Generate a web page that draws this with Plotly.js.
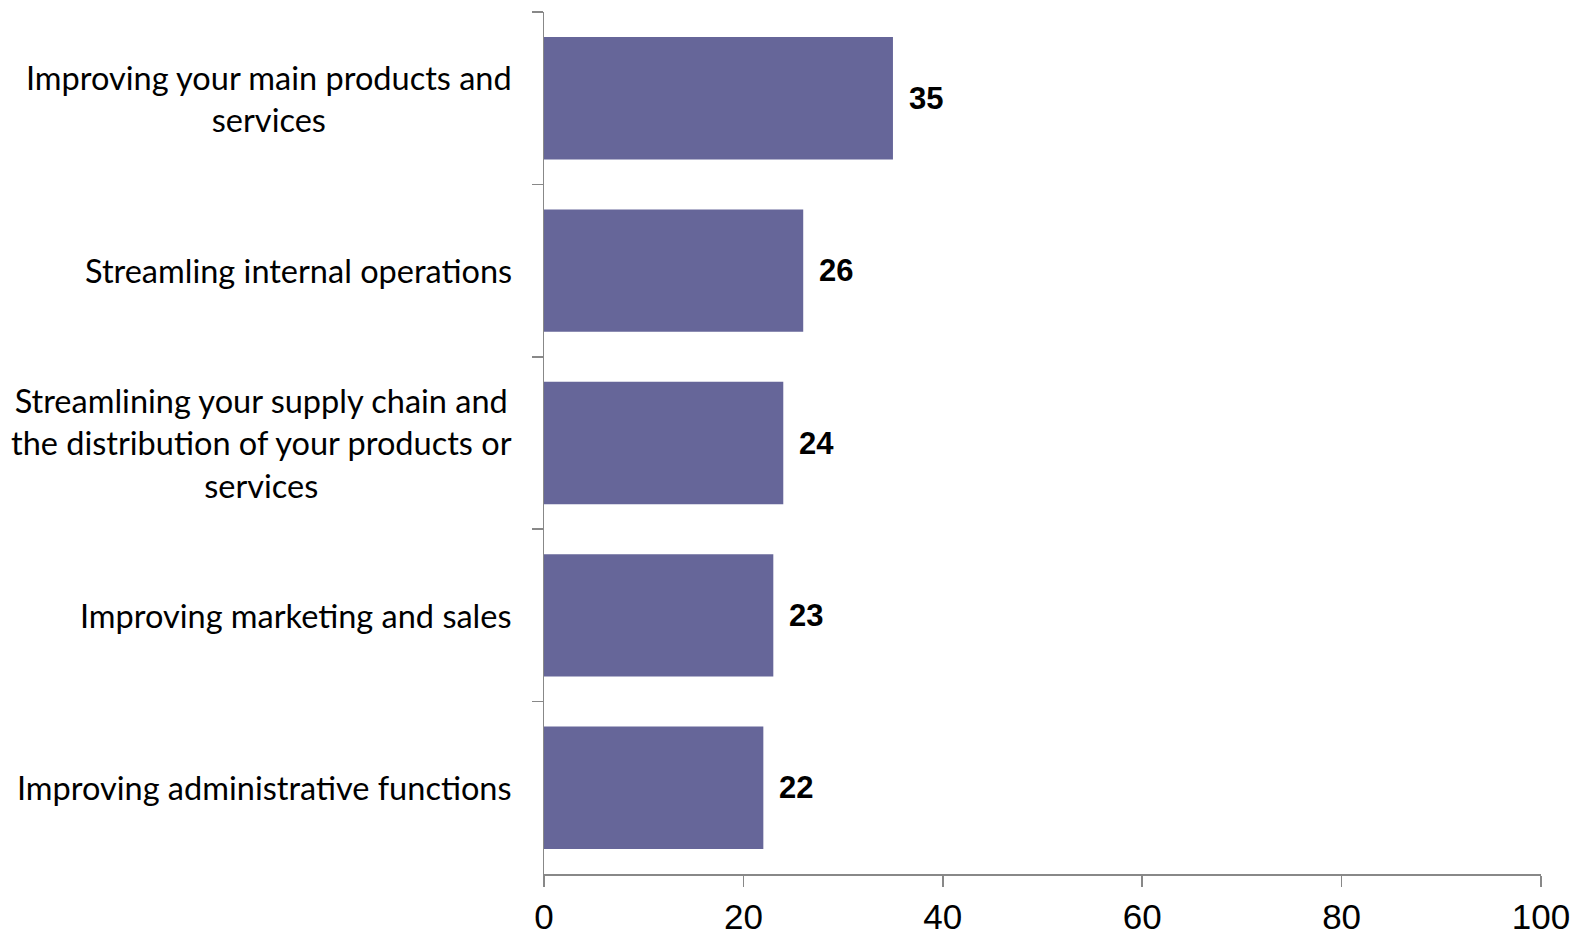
<!DOCTYPE html>
<html>
<head>
<meta charset="utf-8">
<script src="https://cdn.plot.ly/plotly-3.0.1.min.js"></script>
<style>
  html, body { margin: 0; padding: 0; background: #fff; }
  #chart { width: 1576px; height: 936px; }
</style>
</head>
<body>
<div id="chart"></div>
<script>
const categories = [
  "Improving your main products and<br>services",
  "Streamling internal operations",
  "Streamlining your supply chain and<br>the distribution of your products or<br>services",
  "Improving marketing and sales",
  "Improving administrative functions"
];
const values = [35, 26, 24, 23, 22];
const xTickValues = [0, 20, 40, 60, 80, 100];
const xTickLabels = ["0", "20", "40", "60", "80", "100"];

const trace = {
  type: 'bar',
  orientation: 'h',
  x: values,
  y: categories,
  marker: { color: '#666699', line: { width: 0 } },
  hoverinfo: 'x+y'
};

const annotations = [];
categories.forEach((c, i) => {
  annotations.push({
    xref: 'paper', yref: 'y', x: 0, y: c,
    xanchor: 'right', yanchor: 'middle', xshift: -30,
    text: c, align: 'center', showarrow: false,
    font: { family: 'Lato, "Open Sans", sans-serif', size: 32.5, color: '#000' }
  });
  annotations.push({
    xref: 'x', yref: 'y', x: values[i], y: c,
    xanchor: 'left', yanchor: 'middle', xshift: 14,
    text: '<b>' + values[i] + '</b>', showarrow: false,
    font: { family: '"Liberation Sans", Arial, sans-serif', size: 31, color: '#000' }
  });
});

const layout = {
  width: 1576, height: 936,
  margin: { l: 544, r: 35, t: 12, b: 62 },
  paper_bgcolor: '#fff', plot_bgcolor: '#fff',
  bargap: 0.29,
  showlegend: false,
  xaxis: {
    range: [0, 100],
    tickvals: xTickValues, ticktext: xTickLabels,
    showgrid: false, zeroline: false,
    showline: true, linecolor: '#888', linewidth: 1.5,
    ticks: 'outside', ticklen: 11, tickwidth: 1.5, tickcolor: '#888',
    ticklabelstandoff: 0,
    tickfont: { family: '"Liberation Sans", Arial, sans-serif', size: 35, color: '#000' },
    fixedrange: true
  },
  yaxis: {
    type: 'category',
    categoryorder: 'array', categoryarray: categories,
    range: [4.5, -0.5],
    showgrid: false, zeroline: false,
    showline: true, linecolor: '#888', linewidth: 1.5,
    ticks: 'outside', ticklen: 11, tickwidth: 1.5, tickcolor: '#888',
    tickson: 'boundaries',
    showticklabels: false,
    fixedrange: true
  },
  annotations: annotations
};

Plotly.newPlot('chart', [trace], layout, { displayModeBar: false, staticPlot: true });
</script>
</body>
</html>
